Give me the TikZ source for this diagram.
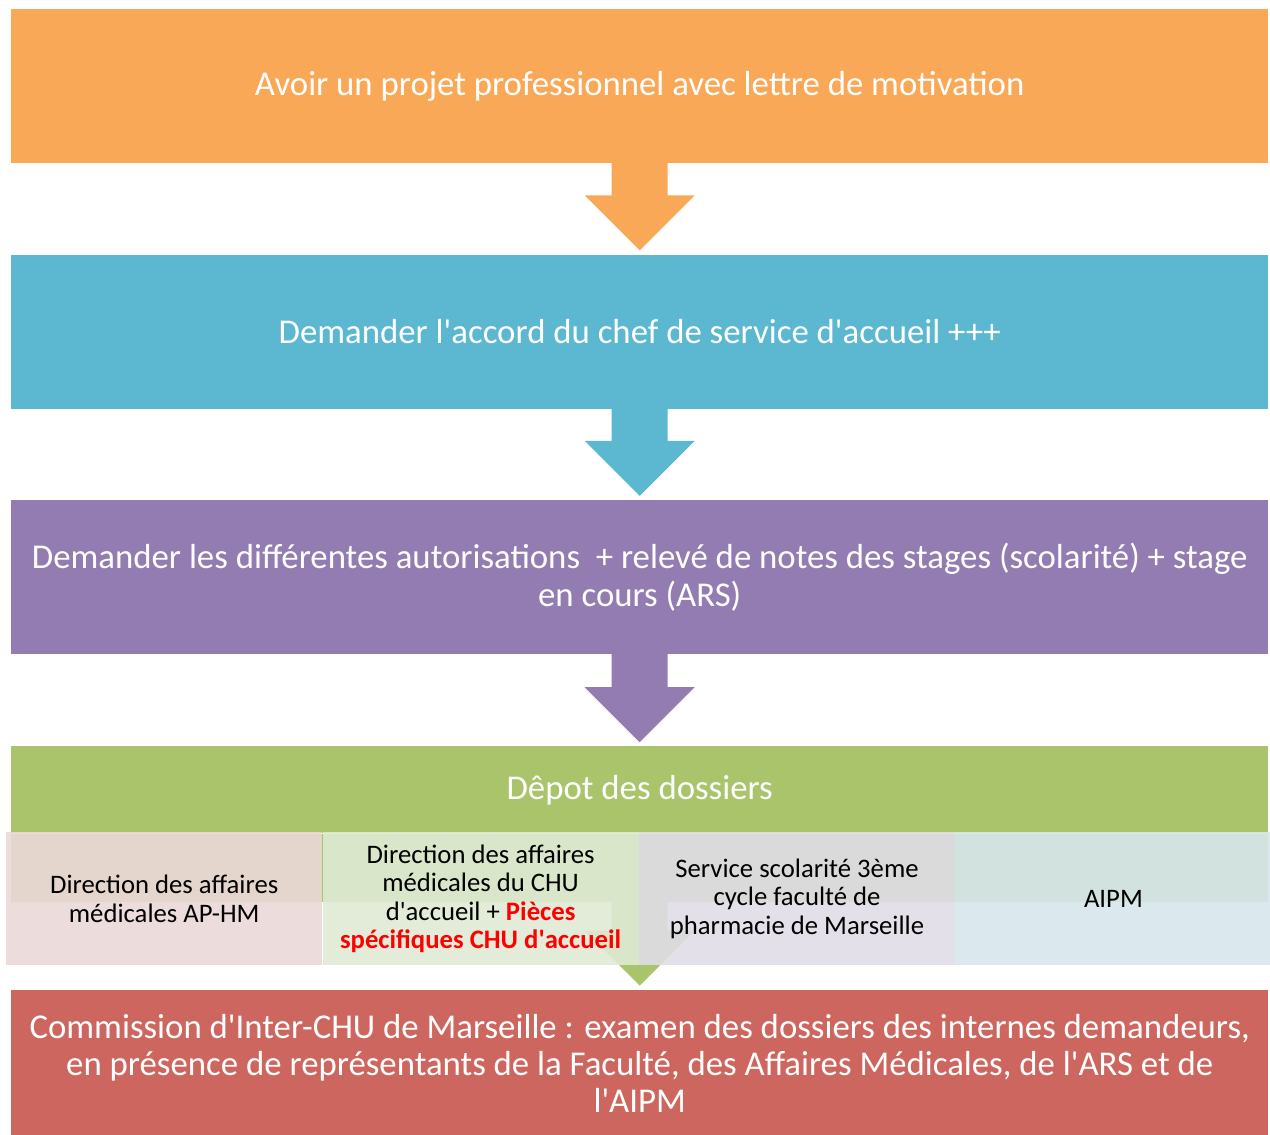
\documentclass[tikz,border=0pt]{standalone}
\usepackage{fontspec}
\setmainfont{Carlito}
\usetikzlibrary{positioning,calc}
\definecolor{orangebox}{HTML}{F9A857}
\definecolor{bluebox}{HTML}{5BB8D0}
\definecolor{purplebox}{HTML}{937CB1}
\definecolor{greenbox}{HTML}{AAC46C}
\definecolor{redbox}{HTML}{CD665F}
\definecolor{pinkbox}{HTML}{EBD8D8}
\definecolor{palegreenbox}{HTML}{E0EAD5}
\definecolor{lilacbox}{HTML}{E0DDE7}
\definecolor{skybox}{HTML}{D7E6EC}
\newcommand{\ap}{\textquotesingle}
% block arrow from one anchor down to the next box
\newcommand{\blockarrow}[3]{%
  \fill[#3] ($(#1)+(-28,1)$) -- ($(#1)+(28,1)$) -- ($(#2)+(28,59)$) -- ($(#2)+(55,59)$)
    -- ($(#2)+(0,4)$) -- ($(#2)+(-55,59)$) -- ($(#2)+(-28,59)$) -- cycle;}

\begin{document}
\begin{tikzpicture}[%
    x=1pt,y=1pt,node distance=91pt,
    bigbox/.style={%
      rectangle,minimum width=1257pt,minimum height=154pt,
      align=center,inner sep=0pt,text=white,font=\fontsize{34.8}{38.5}\selectfont},
    subbox/.style={%
      rectangle,minimum width=316pt,minimum height=133pt,
      align=center,inner sep=0pt,fill opacity=0.9,text opacity=1,
      font=\fontsize{26.7}{28.3}\selectfont}
  ]
    \useasboundingbox (0,0) rectangle (1270,-1135);
    \node[bigbox,fill=orangebox,anchor=north west] (projet) at (11,-9)
      {Avoir un projet professionnel avec lettre de motivation};
    \node[bigbox,fill=bluebox] (accord) [below=91pt of projet]
      {Demander l\ap accord du chef de service d\ap accueil +++};
    \node[bigbox,fill=purplebox] (autoris) [below=91pt of accord]
      {Demander les différentes autorisations~ + relevé de notes des stages (scolarité) + stage\\
       en cours (ARS)};
    \node[bigbox,fill=greenbox,minimum height=87pt] (depot) [below=92pt of autoris]
      {Dêpot des dossiers};
    \node[bigbox,fill=redbox,minimum height=147pt,anchor=north,
          font=\fontsize{34.8}{37}\selectfont] (commission)
      at ($(depot.south)+(0,-156)$)
      {Commission d\ap Inter-CHU de Marseille : examen des dossiers des internes demandeurs,\\
       en présence de représentants de la Faculté, des Affaires Médicales, de l\ap ARS et de\\
       l\ap AIPM};

    \blockarrow{projet.south}{accord.north}{orangebox}
    \blockarrow{accord.south}{autoris.north}{bluebox}
    \blockarrow{autoris.south}{depot.north}{purplebox}

    % green part behind the four offices
    \coordinate (depotend) at ($(depot.south)+(0,-68)$);
    \fill[greenbox] (depot.south west) rectangle ($(depot.south east)+(0,-68)$);
    \blockarrow{depotend}{commission.north}{greenbox}

    \node[subbox,fill=pinkbox,anchor=north west] (aphm) at (6,-832)
      {Direction des affaires\\ médicales AP-HM};
    \node[subbox,fill=palegreenbox] (chu) [right=0pt of aphm]
      {Direction des affaires\\ médicales du CHU\\ d\ap accueil + \textcolor{red}{\textbf{Pièces}}\\
       \textcolor{red}{\textbf{spécifiques CHU d\ap accueil}}};
    \node[subbox,fill=lilacbox] (scol) [right=0pt of chu]
      {Service scolarité 3ème\\ cycle faculté de\\ pharmacie de Marseille};
    \node[subbox,fill=skybox] (aipm) [right=0pt of scol] {AIPM};
\end{tikzpicture}
\end{document}
